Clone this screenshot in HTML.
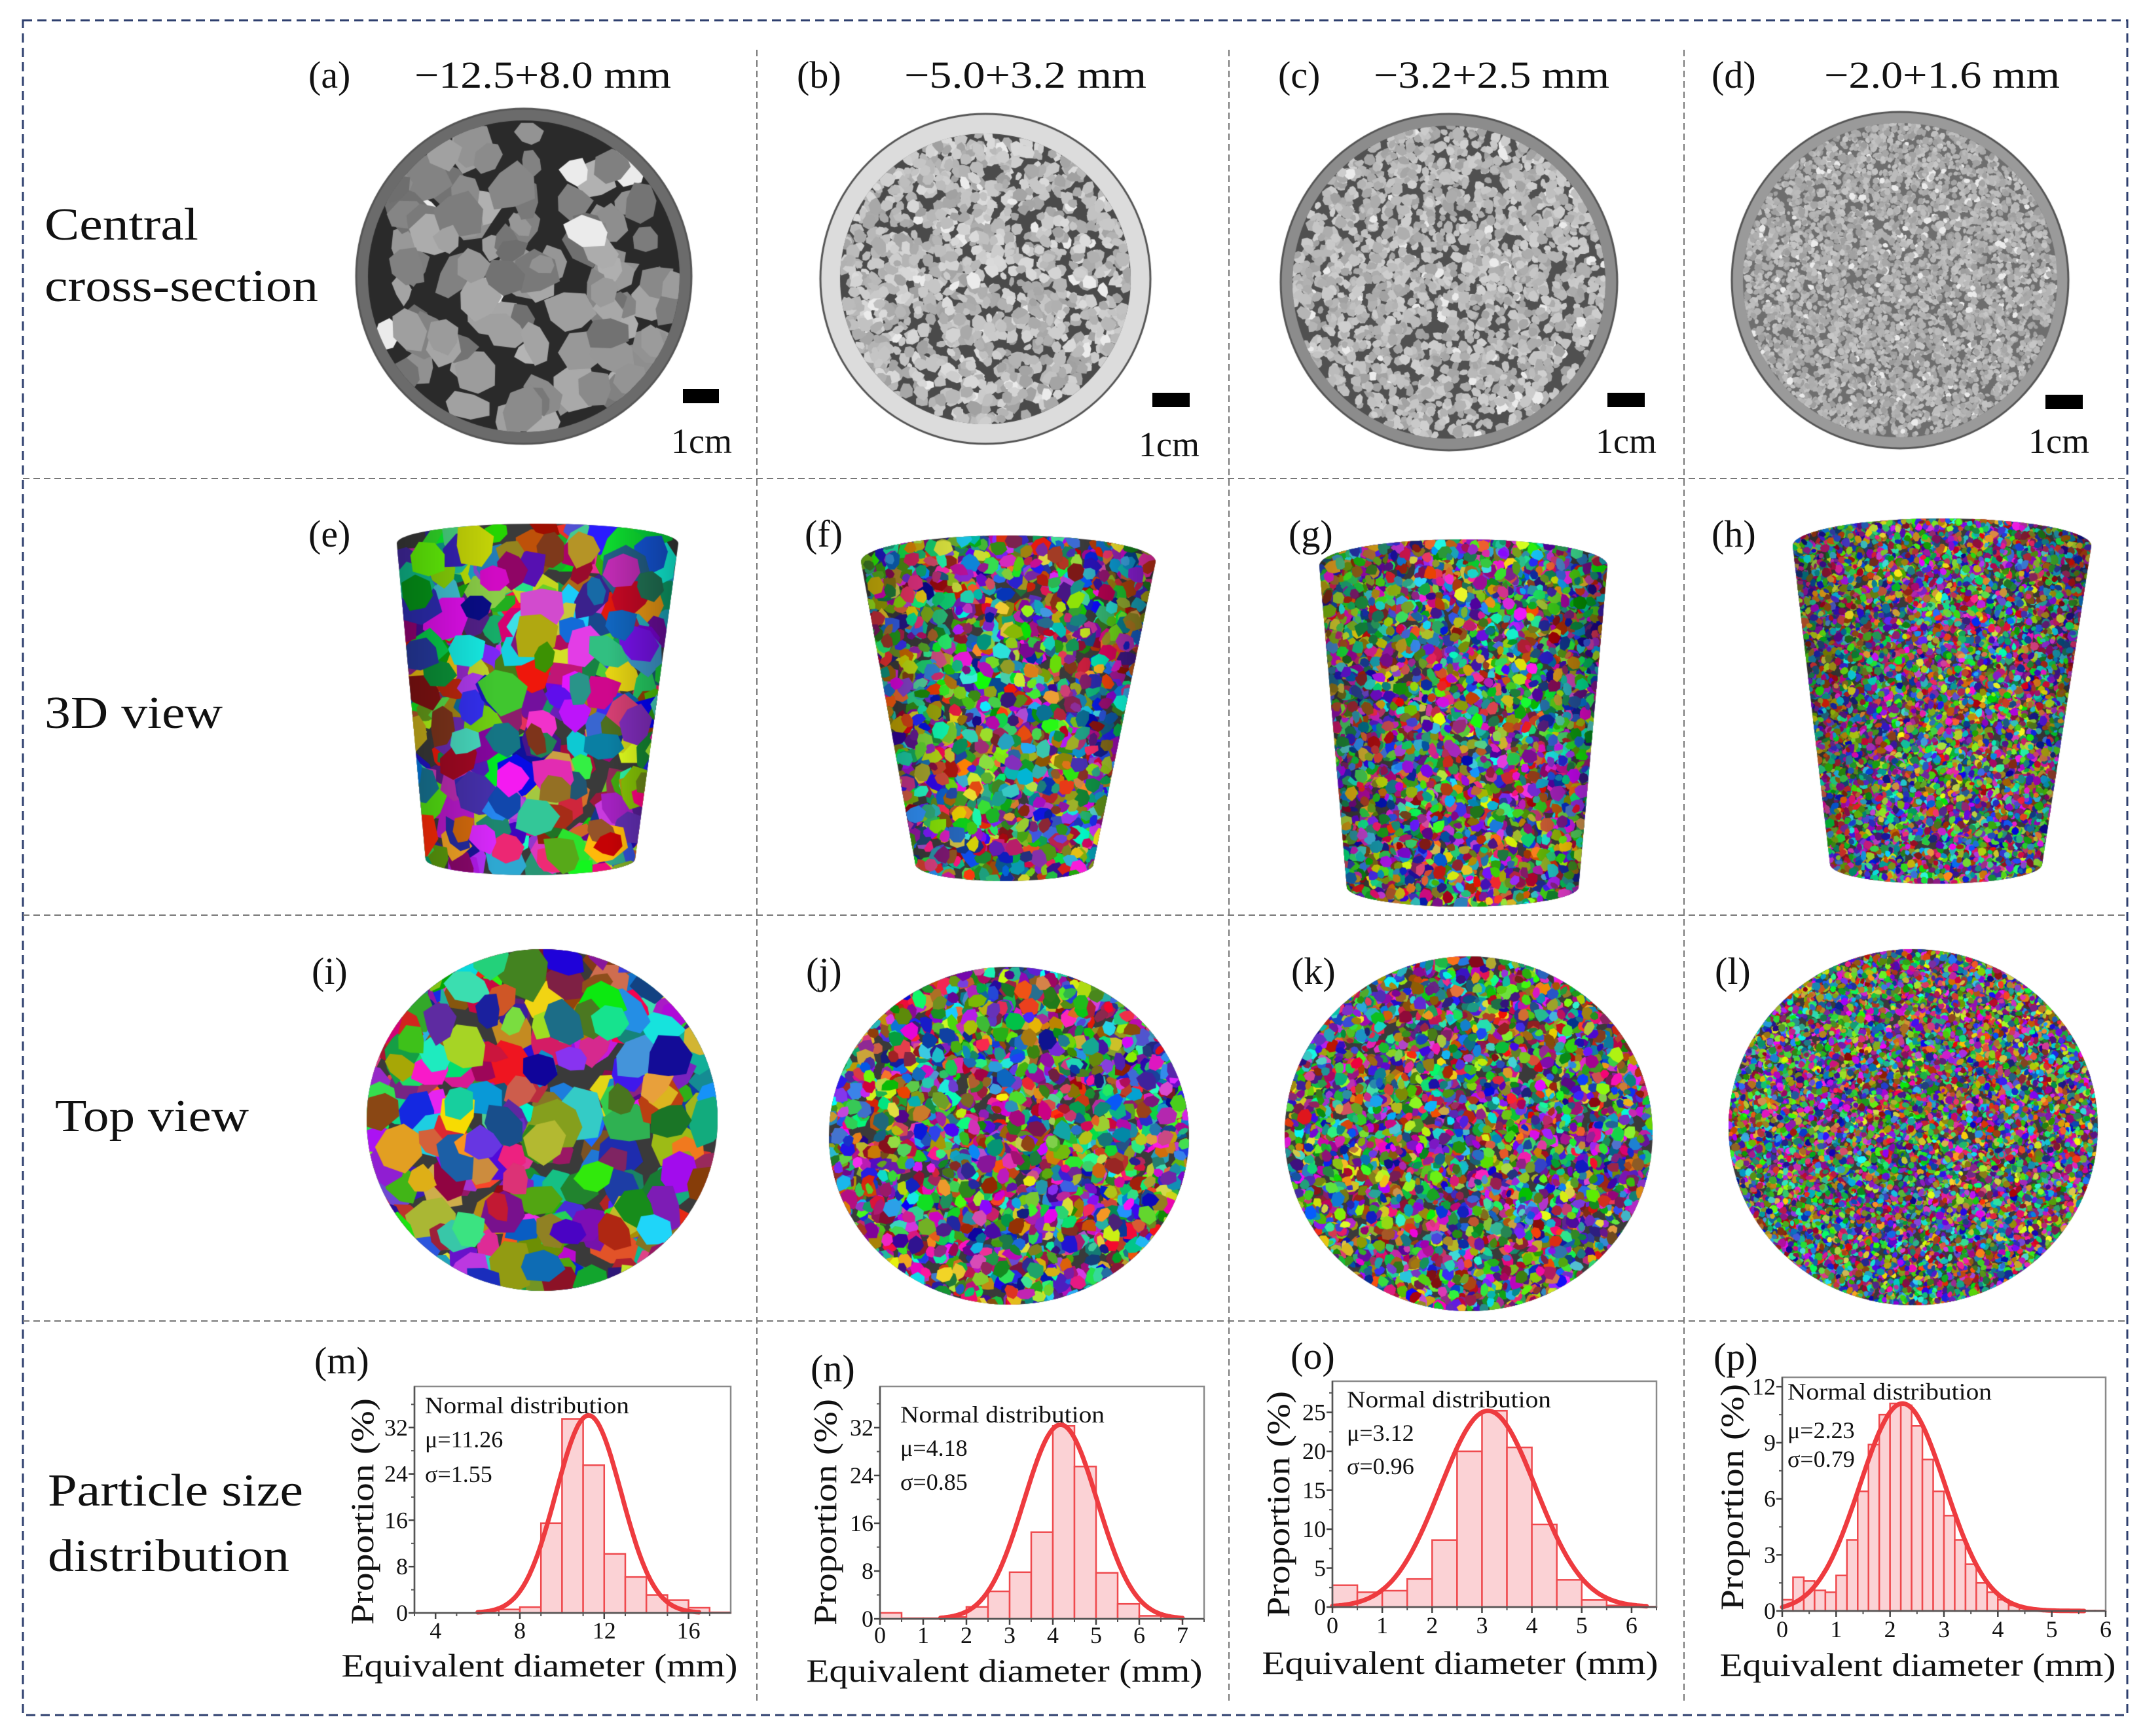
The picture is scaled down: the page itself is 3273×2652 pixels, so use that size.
<!DOCTYPE html>
<html><head><meta charset="utf-8">
<style>
html,body{margin:0;padding:0;background:#fff;}
#root{position:relative;width:3273px;height:2652px;overflow:hidden;background:#fff;}
canvas{position:absolute;left:0;top:0;}
svg{position:absolute;left:0;top:0;}
text{font-family:"Liberation Serif","DejaVu Serif",serif;fill:#111;}
</style></head>
<body>
<div id="root">
<canvas id="cv" width="3273" height="2652"></canvas>
<svg id="sv" width="3273" height="2652" viewBox="0 0 3273 2652">
  <rect x="35" y="31" width="3214" height="2589" fill="none" stroke="#2e3f6e" stroke-width="3" stroke-dasharray="14 8"/>
  <g stroke="#777" stroke-width="2" stroke-dasharray="10 6">
    <line x1="35" y1="731" x2="3249" y2="731"/>
    <line x1="35" y1="1398" x2="3249" y2="1398"/>
    <line x1="35" y1="2018" x2="3249" y2="2018"/>
    <line x1="1156" y1="76" x2="1156" y2="2600"/>
    <line x1="1877" y1="76" x2="1877" y2="2600"/>
    <line x1="2572" y1="76" x2="2572" y2="2600"/>
  </g>
  <g font-size="70">
    <text x="68" y="366" textLength="235" lengthAdjust="spacingAndGlyphs">Central</text>
    <text x="68" y="460" textLength="418" lengthAdjust="spacingAndGlyphs">cross-section</text>
    <text x="68" y="1112" textLength="272" lengthAdjust="spacingAndGlyphs">3D view</text>
    <text x="84" y="1728" textLength="296" lengthAdjust="spacingAndGlyphs">Top view</text>
    <text x="73" y="2300" textLength="390" lengthAdjust="spacingAndGlyphs">Particle size</text>
    <text x="73" y="2400" textLength="369" lengthAdjust="spacingAndGlyphs">distribution</text>
  </g>
  <g font-size="58">
    <text x="471" y="134">(a)</text>
    <text x="633" y="134" textLength="392" lengthAdjust="spacingAndGlyphs">−12.5+8.0 mm</text>
    <text x="1217" y="134">(b)</text>
    <text x="1381" y="134" textLength="370" lengthAdjust="spacingAndGlyphs">−5.0+3.2 mm</text>
    <text x="1952" y="134">(c)</text>
    <text x="2098" y="134" textLength="360" lengthAdjust="spacingAndGlyphs">−3.2+2.5 mm</text>
    <text x="2614" y="134">(d)</text>
    <text x="2786" y="134" textLength="360" lengthAdjust="spacingAndGlyphs">−2.0+1.6 mm</text>
    <text x="471" y="835">(e)</text>
    <text x="1229" y="835">(f)</text>
    <text x="1968" y="835">(g)</text>
    <text x="2614" y="835">(h)</text>
    <text x="476" y="1503">(i)</text>
    <text x="1231" y="1503">(j)</text>
    <text x="1972" y="1503">(k)</text>
    <text x="2619" y="1503">(l)</text>
    <text x="480" y="2098">(m)</text>
    <text x="1238" y="2110">(n)</text>
    <text x="1971" y="2091">(o)</text>
    <text x="2617" y="2092">(p)</text>
  </g>
  <g>
    <rect x="1043" y="594" width="55" height="22" fill="#000"/>
    <text x="1025" y="692" font-size="54">1cm</text>
    <rect x="1760" y="600" width="57" height="22" fill="#000"/>
    <text x="1739" y="697" font-size="54">1cm</text>
    <rect x="2455" y="600" width="57" height="22" fill="#000"/>
    <text x="2437" y="692" font-size="54">1cm</text>
    <rect x="3124" y="603" width="57" height="22" fill="#000"/>
    <text x="3098" y="692" font-size="54">1cm</text>
  </g>
  <g id="charts"></g>
</svg>
</div>
<script>
// ===== Chart data =====
const mBins = [7,8,9,10,11,12,13,14,15,16,17];
const mValues = [0.6,1.0,15.5,33.5,25.5,10.2,6.2,3.1,2.2,0.9,0.1];
const mXTicks = [4,8,12,16];
const mYTicks = [0,8,16,24,32];
const mFit = [11.26,1.55,34.1,6.0,16.5];

const nBins = [0,0.5,1,1.5,2,2.5,3,3.5,4,4.5,5,5.5,6,6.5];
const nValues = [1.0,0.1,0.1,0.3,2.0,4.6,7.8,14.5,32.3,25.5,7.7,2.5,0.5,0.05];
const nXTicks = [0,1,2,3,4,5,6,7];
const nYTicks = [0,8,16,24,32];
const nFit = [4.18,0.85,32.5,1.4,7.0];

const oBins = [0,0.5,1,1.5,2,2.5,3,3.5,4,4.5,5,5.5,6];
const oValues = [2.8,1.9,2.1,3.6,8.6,20.0,25.2,20.5,10.6,3.5,0.9,0.2,0.05];
const oXTicks = [0,1,2,3,4,5,6];
const oYTicks = [0,5,10,15,20,25];
const oFit = [3.12,0.96,25.2,0.0,6.3];

const pBins = [0,0.2,0.4,0.6,0.8,1.0,1.2,1.4,1.6,1.8,2.0,2.2,2.4,2.6,2.8,3.0,3.2,3.4,3.6,3.8,4.0,4.2,4.4,4.6,4.8,5.0,5.2,5.4,5.6,5.8];
const pValues = [0.6,1.8,1.6,1.1,1.0,1.9,3.8,6.4,8.9,10.5,11.1,11.0,9.9,8.1,6.4,5.1,3.8,2.5,1.5,1.0,0.6,0.3,0.15,0.05,0.05,0.03,0.02,0.02,0.02,0.02];
const pXTicks = [0,1,2,3,4,5,6];
const pYTicks = [0,3,6,9,12];
const pFit = [2.23,0.79,11.1,0.0,5.6];

const NS = 'http://www.w3.org/2000/svg';
function mk(tag, attrs, parent){
  const e = document.createElementNS(NS, tag);
  for (const k in attrs) e.setAttribute(k, attrs[k]);
  if (parent) parent.appendChild(e);
  return e;
}

function drawHist(id, box, xr, yr, bins, values, bw, xTicks, yTicks, yMinorStep, xMinorStep, fit, texts, titles){
  const root = document.getElementById('charts');
  const g = mk('g', {}, root);
  
  
  const X = v => box.x0 + (v - xr[0]) / (xr[1] - xr[0]) * (box.x1 - box.x0);
  const Y = v => box.y1 - (v - yr[0]) / (yr[1] - yr[0]) * (box.y1 - box.y0);
  for (let i = 0; i < bins.length; i++){
    const x0 = X(bins[i]), x1 = X(bins[i] + bw), y = Y(values[i]);
    const r = mk('rect', {x:x0, y:y, width:x1-x0, height:Math.max(0, box.y1 - y), fill:'#fbd2d5', stroke:'#ef4a4e', 'stroke-width':2.5}, g);
    
    
  }
  const mu = fit[0], sd = fit[1], pk = fit[2];
  let d = '';
  for (let k = 0; k <= 200; k++){
    const xv = fit[3] + (fit[4] - fit[3]) * k / 200;
    const yv = pk * Math.exp(-0.5 * Math.pow((xv - mu) / sd, 2));
    d += (k ? 'L' : 'M') + X(xv).toFixed(1) + ',' + Y(yv).toFixed(1);
  }
  const c = mk('path', {d:d, fill:'none', stroke:'#ee3b3f', 'stroke-width':7, 'stroke-linecap':'round'}, g);
  
  
  const f = mk('rect', {x:box.x0, y:box.y0, width:box.x1-box.x0, height:box.y1-box.y0, fill:'none', stroke:'#8a8a8a', 'stroke-width':2.5}, g);
  
  
  mk('line', {x1:box.x0, y1:box.y1, x2:box.x1, y2:box.y1, stroke:'#555', 'stroke-width':2.5}, g);
  mk('line', {x1:box.x0, y1:box.y0, x2:box.x0, y2:box.y1, stroke:'#555', 'stroke-width':2.5}, g);
  for (let v = yr[0]; v <= yr[1] + 1e-6; v += yMinorStep){
    mk('line', {x1:box.x0 - 5, y1:Y(v), x2:box.x0, y2:Y(v), stroke:'#555', 'stroke-width':2}, g);
  }
  yTicks.forEach(v => {
    mk('line', {x1:box.x0 - 9, y1:Y(v), x2:box.x0, y2:Y(v), stroke:'#444', 'stroke-width':2.5}, g);
    const t = mk('text', {x:box.x0 - 10, y:Y(v) + 12, 'font-size':36, 'text-anchor':'end'}, g);
    t.textContent = String(v);
    
    
  });
  for (let v = xr[0]; v <= xr[1] + 1e-6; v += xMinorStep){
    mk('line', {x1:X(v), y1:box.y1, x2:X(v), y2:box.y1 + 5, stroke:'#555', 'stroke-width':2}, g);
  }
  xTicks.forEach(v => {
    mk('line', {x1:X(v), y1:box.y1, x2:X(v), y2:box.y1 + 9, stroke:'#444', 'stroke-width':2.5}, g);
    const t = mk('text', {x:X(v), y:titles.xl, 'font-size':36, 'text-anchor':'middle'}, g);
    t.textContent = String(v);
    
    
  });
  const lines = ['Normal distribution', 'μ=' + mu.toFixed(2), 'σ=' + sd.toFixed(2)];
  lines.forEach((s, i) => {
    const a = {x:texts.x, y:texts.y[i], 'font-size':36};
    if (i === 0){ a.textLength = 312; a.lengthAdjust = 'spacingAndGlyphs'; }
    const t = mk('text', a, g);
    t.textContent = s;
    
    
  });
  const xt = mk('text', {x:titles.xc, y:titles.xb, 'font-size':50, 'text-anchor':'middle', textLength:605, lengthAdjust:'spacingAndGlyphs'}, g);
  xt.textContent = 'Equivalent diameter (mm)';
  
  
  const yt = mk('text', {x:0, y:0, 'font-size':50, 'text-anchor':'middle', textLength:346, lengthAdjust:'spacingAndGlyphs',
    transform:'translate(' + titles.yx + ',' + titles.yc + ') rotate(-90)'}, g);
  yt.textContent = 'Proportion (%)';
  
  
}

drawHist('m', {x0:633,x1:1116,y0:2118,y1:2464}, [3,18], [0,39.1], mBins, mValues, 1, mXTicks, mYTicks, 4, 2, mFit,
  {x:649, y:[2159,2211,2264]}, {xl:2503, xc:824, xb:2561, yx:570, yc:2309});
drawHist('n', {x0:1344,x1:1839,y0:2118,y1:2473}, [0,7.5], [0,38.9], nBins, nValues, 0.5, nXTicks, nYTicks, 4, 0.5, nFit,
  {x:1375, y:[2173,2224,2276]}, {xl:2510, xc:1534, xb:2569, yx:1277, yc:2310});
drawHist('o', {x0:2035,x1:2530,y0:2110,y1:2455}, [0,6.5], [0,29], oBins, oValues, 0.5, oXTicks, oYTicks, 2.5, 0.5, oFit,
  {x:2057, y:[2150,2201,2252]}, {xl:2495, xc:2230, xb:2557, yx:1969, yc:2298});
drawHist('p', {x0:2722,x1:3216,y0:2104,y1:2461}, [0,6], [0,12.5], pBins, pValues, 0.2, pXTicks, pYTicks, 1.5, 0.5, pFit,
  {x:2730, y:[2138,2197,2241]}, {xl:2501, xc:2929, xb:2560, yx:2662, yc:2287});

// ===== Image panels (textures) =====
const cv = document.getElementById('cv');
const ctx = cv.getContext('2d');
let seed = 12345;
function rnd(){ seed |= 0; seed = seed + 0x6D2B79F5 | 0; let t = Math.imul(seed ^ seed >>> 15, 1 | seed); t = t + Math.imul(t ^ t >>> 7, 61 | t) ^ t; return ((t ^ t >>> 14) >>> 0) / 4294967296; }
function blob(x, y, r, fill){
  const n = 7; ctx.beginPath();
  const rot = rnd() * 6.28, el = 0.6 + rnd() * 0.5;
  for (let i = 0; i < n; i++){
    const a = i / n * 6.283;
    const rr = r * (0.75 + rnd() * 0.4);
    const px = Math.cos(a) * rr, py = Math.sin(a) * rr * el;
    const qx = px * Math.cos(rot) - py * Math.sin(rot), qy = px * Math.sin(rot) + py * Math.cos(rot);
    if (i) ctx.lineTo(x + qx, y + qy); else ctx.moveTo(x + qx, y + qy);
  }
  ctx.closePath(); ctx.fillStyle = fill; ctx.fill();
}
function crossSection(cx, cy, r, rimW, rimCol, bg, pr, count, gLo, gHi){
  ctx.save();
  ctx.beginPath(); ctx.arc(cx, cy, r, 0, 6.283); ctx.fillStyle = rimCol; ctx.fill();
  ctx.lineWidth = 3; ctx.strokeStyle = '#555'; ctx.stroke();
  const ir = r - rimW;
  ctx.beginPath(); ctx.arc(cx, cy, ir, 0, 6.283); ctx.fillStyle = bg; ctx.fill(); ctx.clip();
  for (let i = 0; i < count; i++){
    const a = rnd() * 6.283, d = Math.sqrt(rnd()) * ir;
    let gv = gLo + rnd() * (gHi - gLo);
    if (rnd() < 0.04) gv = 235;
    gv = Math.round(gv);
    blob(cx + Math.cos(a) * d, cy + Math.sin(a) * d, pr * (0.7 + rnd() * 0.6), 'rgb(' + gv + ',' + gv + ',' + gv + ')');
  }
  ctx.restore();
}
crossSection(800, 422, 256, 18, '#6b6b6b', '#2a2a2a', 30, 115, 110, 180);
crossSection(1505, 426, 252, 30, '#dcdcdc', '#4a4a4a', 10, 1200, 160, 220);
crossSection(2213, 431, 257, 18, '#8c8c8c', '#505050', 8, 2000, 160, 210);
crossSection(2902, 428, 257, 17, '#9a9a9a', '#6e6e6e', 5, 5000, 155, 200);

function color(){
  const h = Math.floor(rnd() * 360), s = 55 + Math.floor(rnd() * 45), l = 28 + Math.floor(rnd() * 30);
  return 'hsl(' + h + ',' + s + '%,' + l + '%)';
}
function fillRegion(pathFn, bx0, by0, bx1, by1, pr, count, shade){
  ctx.save(); pathFn(); ctx.clip();
  ctx.fillStyle = '#3a3a3a'; ctx.fillRect(bx0, by0, bx1 - bx0, by1 - by0);
  for (let i = 0; i < count; i++){
    blob(bx0 + rnd() * (bx1 - bx0), by0 + rnd() * (by1 - by0), pr * (0.7 + rnd() * 0.6), color());
  }
  if (shade){
    const gr = ctx.createLinearGradient(bx0, 0, bx1, 0);
    gr.addColorStop(0, 'rgba(0,0,0,0.25)'); gr.addColorStop(0.35, 'rgba(0,0,0,0)');
    gr.addColorStop(0.75, 'rgba(0,0,0,0)'); gr.addColorStop(1, 'rgba(0,0,0,0.3)');
    ctx.fillStyle = gr; ctx.fillRect(bx0, by0, bx1 - bx0, by1 - by0);
  }
  ctx.restore();
}
function cyl(cxT, yT, hwT, ryT, cxB, yB, hwB, ryB, pr, count){
  const p = () => {
    ctx.beginPath();
    ctx.ellipse(cxT, yT, hwT, ryT, 0, Math.PI, 2 * Math.PI);
    ctx.lineTo(cxB + hwB, yB);
    ctx.ellipse(cxB, yB, hwB, ryB, 0, 0, Math.PI);
    ctx.closePath();
  };
  fillRegion(p, Math.min(cxT - hwT, cxB - hwB), yT - ryT, Math.max(cxT + hwT, cxB + hwB), yB + ryB, pr, count, true);
}
cyl(821, 830, 215, 30, 810, 1312, 160, 25, 30, 420);
cyl(1540, 858, 225, 40, 1534, 1320, 136, 26, 12, 2200);
cyl(2235, 864, 220, 40, 2234, 1355, 177, 30, 9, 4200);
cyl(2966, 834, 228, 42, 2957, 1320, 162, 30, 6, 8500);

function disc(cx, cy, rx, ry, pr, count){
  const p = () => { ctx.beginPath(); ctx.ellipse(cx, cy, rx, ry, 0, 0, 6.283); };
  fillRegion(p, cx - rx, cy - ry, cx + rx, cy + ry, pr, count, false);
}
disc(828, 1711, 268, 261, 32, 380);
disc(1541, 1735, 275, 258, 12, 2600);
disc(2243, 1732, 281, 271, 9, 4700);
disc(2922, 1722, 282, 272, 5.5, 12000);
</script>
</body></html>
